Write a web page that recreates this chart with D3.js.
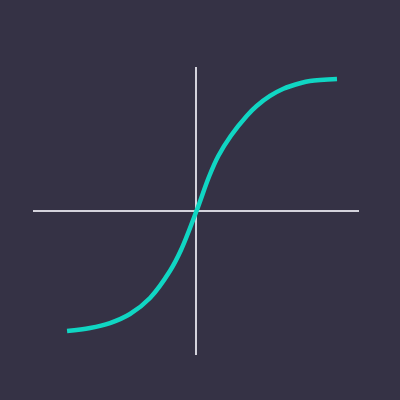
<!DOCTYPE html>
<html>
<head>
<meta charset="utf-8">
<script src="https://cdn.jsdelivr.net/npm/d3@7"></script>
<style>
html,body{margin:0;padding:0;background:#353245;}
svg{display:block;}
</style>
</head>
<body>
<script>
const curveX = [-0.791,-0.650,-0.528,-0.405,-0.282,-0.160,-0.092,0.003,0.0816,0.1368,0.2129,0.311,0.372,0.454,0.536,0.638,0.699,0.865];
const curveY = [-0.833,-0.8125,-0.778,-0.715,-0.604,-0.417,-0.271,0,0.243,0.382,0.521,0.660,0.729,0.799,0.849,0.887,0.903,0.917];
const axisDomain = [-1, 1];

const W = 400, H = 400;
const svg = d3.select("body").append("svg").attr("width", W).attr("height", H);
svg.append("rect").attr("width", W).attr("height", H).attr("fill", "#353245");

const x = d3.scaleLinear().domain(axisDomain).range([33, 359]);
const y = d3.scaleLinear().domain(axisDomain).range([355, 67]);

const axisColor = "#d4d3dc";
svg.append("line")
  .attr("x1", x(axisDomain[0])).attr("x2", x(axisDomain[1]))
  .attr("y1", y(0)).attr("y2", y(0))
  .attr("stroke", axisColor).attr("stroke-width", 2);
svg.append("line")
  .attr("x1", x(0)).attr("x2", x(0))
  .attr("y1", y(axisDomain[1])).attr("y2", y(axisDomain[0]))
  .attr("stroke", axisColor).attr("stroke-width", 2);

const data = curveX.map((v, i) => [v, curveY[i]]);
const line = d3.line().x(d => x(d[0])).y(d => y(d[1])).curve(d3.curveCatmullRom.alpha(0.5));
svg.append("path")
  .datum(data)
  .attr("d", line)
  .attr("fill", "none")
  .attr("stroke", "#10d6c3")
  .attr("stroke-width", 4.5)
  .attr("stroke-linecap", "butt");
</script>
</body>
</html>
